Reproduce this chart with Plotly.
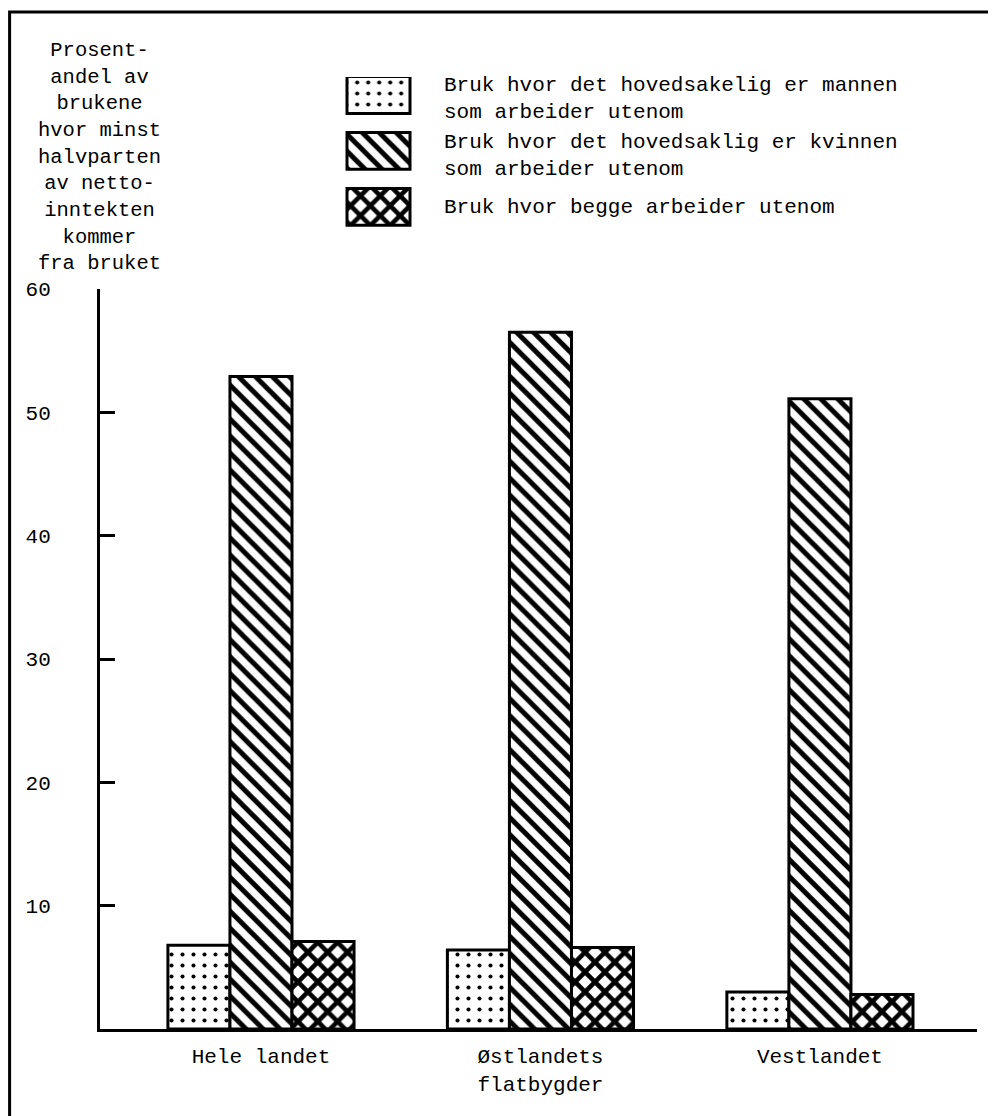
import plotly.graph_objects as go

# ---- data ----
categories = ["Hele landet", "Østlandets<br>flatbygder", "Vestlandet"]
mann = [6.8, 6.4, 3.0]
kvinne = [52.9, 56.5, 51.1]
begge = [7.1, 6.6, 2.8]
y_ticks = [10, 20, 30, 40, 50, 60]
legend_labels = [
    "Bruk hvor det hovedsakelig er mannen<br>som arbeider utenom",
    "Bruk hvor det hovedsaklig er kvinnen<br>som arbeider utenom",
    "Bruk hvor begge arbeider utenom",
]
y_title_lines = ["Prosent-", "andel av", "brukene", "hvor minst", "halvparten",
                 "av netto-", "inntekten", "kommer", "fra bruket"]

W, H = 996, 1116
OFF = 8  # page body margin
FONT = "Liberation Mono, Courier New, monospace"

def px_x(p):
    return (p - OFF) / W

def px_y(p):
    return (H - (p - OFF)) / H

patterns = [
    dict(shape=".", size=11, solidity=0.11, fgcolor="black", bgcolor="white", fillmode="replace"),
    dict(shape="\\", size=12, solidity=0.42, fgcolor="black", bgcolor="white", fillmode="replace"),
    dict(shape="x", size=14, solidity=0.55, fgcolor="black", bgcolor="white", fillmode="replace"),
]
series = [mann, kvinne, begge]

fig = go.Figure()
for vals, pat in zip(series, patterns):
    fig.add_trace(go.Bar(
        x=categories, y=vals,
        marker=dict(color="white", pattern=pat, line=dict(color="black", width=3)),
        showlegend=False, xaxis="x", yaxis="y",
    ))

# legend boxes drawn as bars on an auxiliary subplot
for i, pat in enumerate(patterns):
    fig.add_trace(go.Bar(
        x=[1], y=[i], base=[0], orientation="h", width=0.66,
        marker=dict(color="white", pattern=pat, line=dict(color="black", width=3)),
        showlegend=False, xaxis="x2", yaxis="y2", hoverinfo="skip",
    ))

ann = []
legend_y = [99, 156, 207]
for t, yy in zip(legend_labels, legend_y):
    ann.append(dict(text=t, x=px_x(442), y=px_y(yy), xref="paper", yref="paper",
                    xanchor="left", yanchor="middle", align="left", showarrow=False,
                    font=dict(family=FONT, size=21, color="black")))
ann.append(dict(text="<br>".join(y_title_lines), x=px_x(99), y=px_y(37),
                xref="paper", yref="paper", xanchor="center", yanchor="top",
                align="center", showarrow=False,
                font=dict(family=FONT, size=20.5, color="black")))

unit = 63
fig.update_layout(
    width=W, height=H,
    margin=dict(l=0, r=0, t=0, b=0, autoexpand=False),
    paper_bgcolor="white", plot_bgcolor="white",
    barmode="group", bargap=0.334, bargroupgap=0,
    font=dict(family=FONT, size=21, color="black"),
    xaxis=dict(domain=[px_x(100), px_x(977)], type="category",
               range=[-0.576, 2.562], showline=True, linewidth=3, linecolor="black",
               ticks="", showgrid=False, zeroline=False, ticklabelstandoff=6,
               tickfont=dict(family=FONT, size=21, color="black"), fixedrange=True),
    yaxis=dict(domain=[px_y(1029), px_y(289)], range=[0, 60], tickvals=y_ticks,
               showline=True, linewidth=3, linecolor="black", ticks="inside",
               ticklen=15, tickwidth=3, tickcolor="black", showgrid=False,
               zeroline=False, ticklabelstandoff=42,
               tickfont=dict(family=FONT, size=21, color="black")),
    xaxis2=dict(domain=[px_x(347 - 0.1 * unit), px_x(410 + 0.1 * unit)], range=[-0.1, 1.1],
                visible=False, anchor="y2"),
    yaxis2=dict(domain=[px_y(227), px_y(77)], range=[2.36, -0.32], visible=False, anchor="x2"),
    annotations=ann,
    shapes=[dict(type="rect", xref="paper", yref="paper",
                 x0=px_x(9.6), x1=px_x(993), y0=px_y(1135), y1=px_y(12),
                 line=dict(color="black", width=3))],
)

fig.write_html("out.html")
